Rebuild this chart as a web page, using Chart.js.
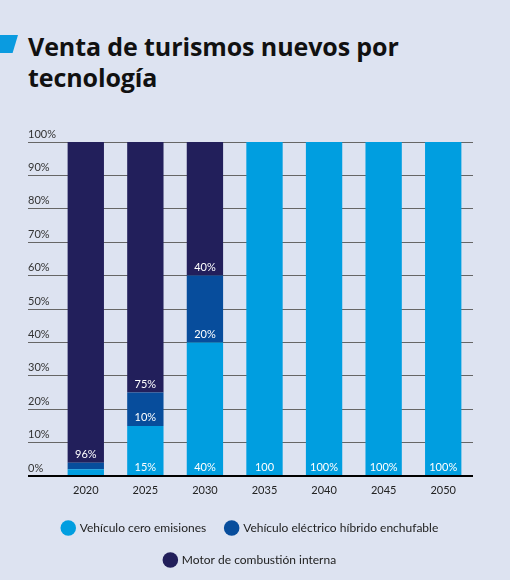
<!DOCTYPE html>
<html>
<head>
<meta charset="utf-8">
<script src="https://cdn.jsdelivr.net/npm/chart.js@4"></script>
<style>
  html, body { margin: 0; padding: 0; background: #dde3f1; }
  #wrap { position: relative; width: 510px; height: 580px; }
  #mark { position: absolute; left: 0; top: 35px; width: 18px; height: 18px; background: #0a9be0;
          clip-path: polygon(0 0, 100% 0, 70% 100%, 0 100%); }
  #title { position: absolute; left: 28px; top: 31px; margin: 0; font-family: "Open Sans", sans-serif;
           font-weight: 700; font-size: 25px; line-height: 31px; color: #111; letter-spacing: -0.1px; }
  canvas { position: absolute; left: 0; top: 0; }
</style>
</head>
<body>
<div id="wrap">
  <div id="mark"></div>
  <h1 id="title">Venta de turismos nuevos por<br>tecnología</h1>
  <canvas id="myChart" width="510" height="580"></canvas>
</div>
<script>
const years = ["2020", "2025", "2030", "2035", "2040", "2045", "2050"];
const ceroEmisiones = [2, 15, 40, 100, 100, 100, 100];
const hibridoEnchufable = [2, 10, 20, 0, 0, 0, 0];
const combustionInterna = [96, 75, 40, 0, 0, 0, 0];
const ceroLabels = ["", "15%", "40%", "100", "100%", "100%", "100%"];
const hibridoLabels = ["", "10%", "20%", "", "", "", ""];
const combustionLabels = ["96%", "75%", "40%", "", "", "", ""];

// etiquetas blancas al pie de cada tramo
const segmentLabels = {
  id: "segmentLabels",
  afterDatasetsDraw(chart) {
    const ctx = chart.ctx;
    ctx.save();
    ctx.fillStyle = "#ffffff";
    ctx.font = "11px Lato, sans-serif";
    ctx.textAlign = "center";
    ctx.textBaseline = "middle";
    chart.data.datasets.forEach((ds, i) => {
      chart.getDatasetMeta(i).data.forEach((bar, j) => {
        const txt = ds.segLabels[j];
        if (txt) ctx.fillText(txt, bar.x, bar.base - 8);
      });
    });
    ctx.restore();
  },
};

new Chart(document.getElementById("myChart"), {
  type: "bar",
  data: {
    labels: years,
    datasets: [
      { label: "Vehículo cero emisiones", data: ceroEmisiones, segLabels: ceroLabels, backgroundColor: "#009ee0" },
      { label: "Vehículo eléctrico híbrido enchufable", data: hibridoEnchufable, segLabels: hibridoLabels, backgroundColor: "#074d9c" },
      { label: "Motor de combustión interna", data: combustionInterna, segLabels: combustionLabels, backgroundColor: "#221f5b" },
    ],
  },
  options: {
    responsive: false,
    animation: false,
    layout: { padding: { top: 142, left: 28, right: 37, bottom: 4 } },
    datasets: { bar: { categoryPercentage: 1, barPercentage: 0.61 } },
    scales: {
      x: {
        stacked: true,
        afterFit(scale) { scale.height = 26; },
        grid: { display: false, drawTicks: false },
        border: { display: false },
        ticks: { color: "#222", padding: 8, font: { family: "Lato", size: 11 } },
      },
      y: {
        stacked: true,
        min: 0,
        max: 100,
        afterFit(scale) { scale.width = 28; },
        border: { display: false },
        grid: {
          color: (c) => (c.tick && c.tick.value === 0 ? "#000" : "#666"),
          lineWidth: (c) => (c.tick && c.tick.value === 0 ? 2 : 1),
          tickLength: 28,
        },
        ticks: {
          stepSize: 10,
          crossAlign: "far",
          labelOffset: -8,
          color: "#333",
          font: { family: "Lato", size: 11 },
          callback: (v) => v + "%",
        },
      },
    },
    plugins: {
      tooltip: { enabled: false },
      legend: {
        position: "bottom",
        labels: {
          usePointStyle: true,
          pointStyle: "circle",
          boxWidth: 11,
          boxHeight: 11,
          padding: 20,
          color: "#222",
          font: { family: "Lato", size: 12 },
        },
      },
    },
  },
  plugins: [segmentLabels],
});
</script>
</body>
</html>
